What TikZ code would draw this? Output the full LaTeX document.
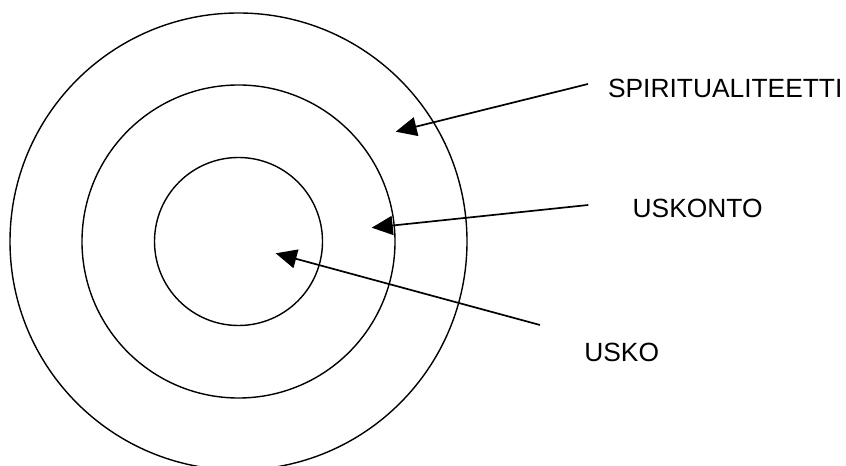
\documentclass[tikz,border=0pt]{standalone}
\usepackage{fontspec}
\setmainfont{Liberation Sans}
\usepackage{tikz}
\usetikzlibrary{positioning,arrows.meta}

\begin{document}
\begin{tikzpicture}[x=0.2mm,y=-0.2mm,
  every node/.style={font=\fontsize{15}{18}\selectfont},
  ring/.style={circle,draw=black,line width=0.28mm,inner sep=0pt},
  lbl/.style={anchor=base west,inner sep=0pt},
  arr/.style={-{Triangle[length=4.2mm,width=3.8mm]},line width=0.34mm},
]
\useasboundingbox (0,0) rectangle (846,466);
\coordinate (c) at (238.5,241.5);
\node[ring,minimum size=91.4mm] (outer) at (c) {};
\node[ring,minimum size=62.6mm] (middle) at (c) {};
\node[ring,minimum size=33.6mm] (inner) at (c) {};

\node[lbl] (spirit) at (607.7,98) {SPIRITUALITEETTI};
\node[lbl] (uskonto) at (632.3,217.7) {USKONTO};
\node[lbl] (usko) at (584,361.7) {USKO};

% arrow ends
\coordinate (s1) at (588,84);
\coordinate (t1) at (395.7,131.7);
\coordinate (s2) at (588.3,205);
\coordinate (t2) at (371.7,227.7);
\coordinate (s3) at (540,325);
\coordinate (t3) at (275.7,253.3);

\draw[arr] (s1) -- (t1);
\draw[arr] (s2) -- (t2);
\draw[arr] (s3) -- (t3);
\end{tikzpicture}
\end{document}
